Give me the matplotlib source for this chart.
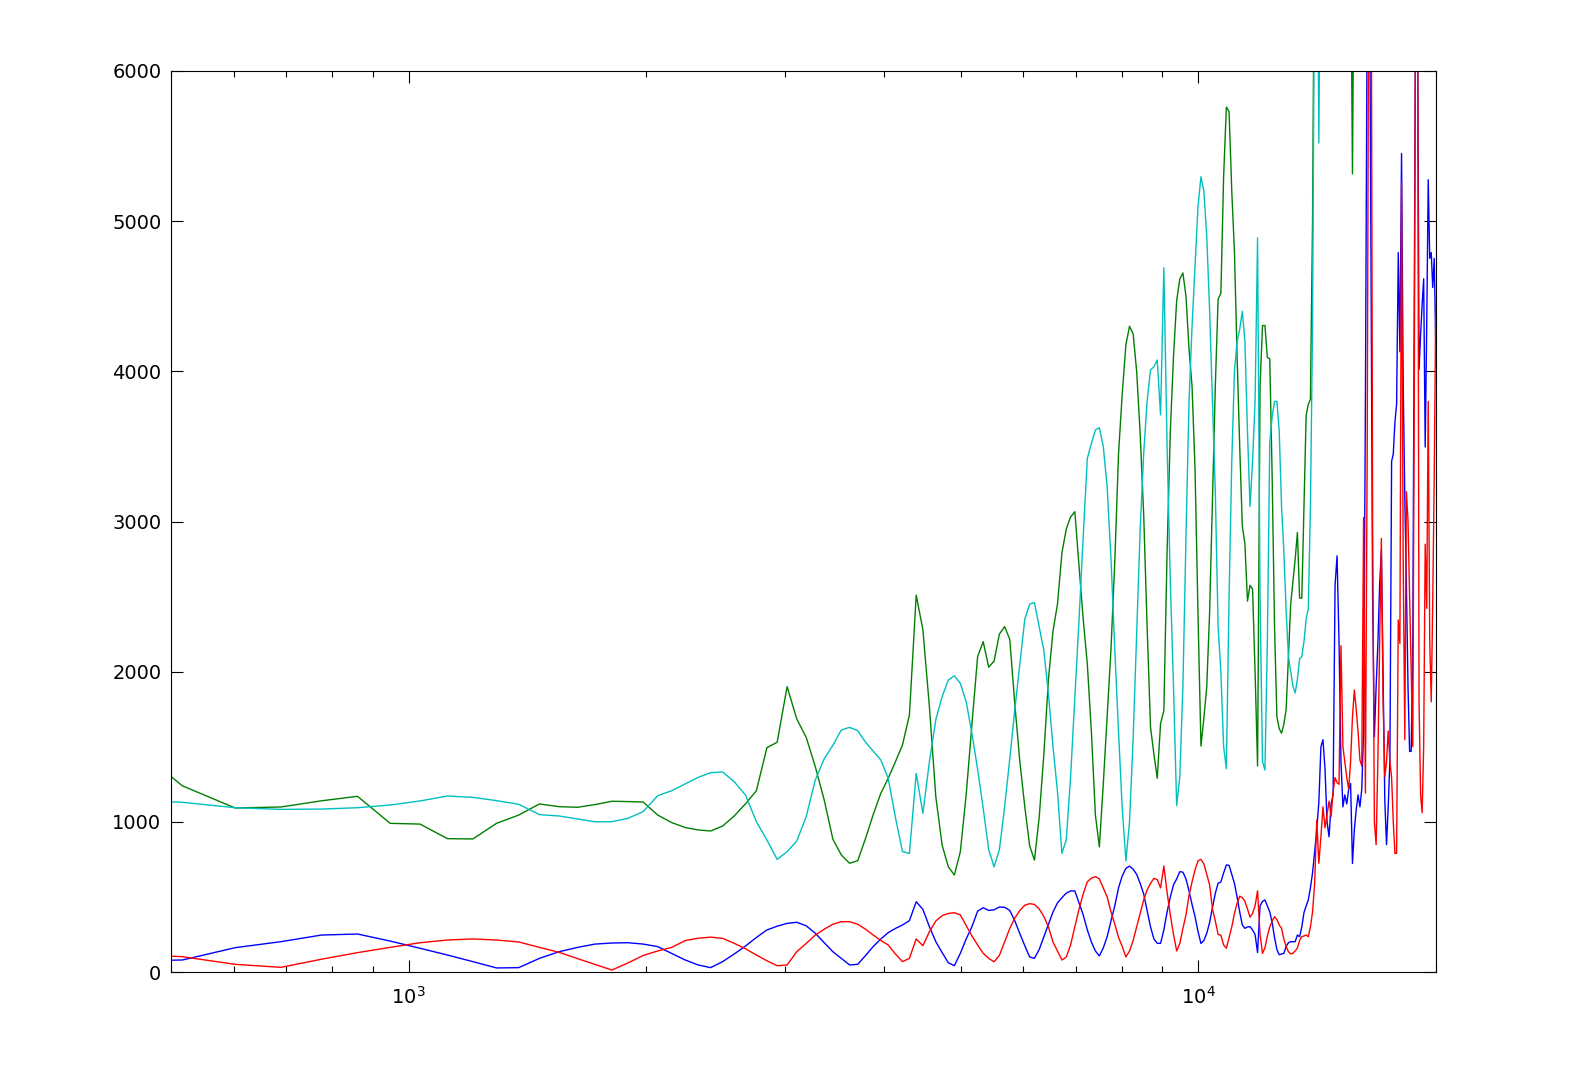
import numpy as np
import matplotlib.pyplot as plt

# FFT bins (fs = 44100 Hz, N = 512), bins 5..232
bins = np.arange(5, 233)
freq = bins * 44100.0 / 512

blue = [72, 80, 162, 202, 246, 253, 206, 158, 113, 69,
        27, 29, 91, 135, 164, 186, 193, 195, 186, 169,
        124, 80, 47, 29, 69, 120, 173, 230, 280, 305,
        324, 331, 308, 258, 195, 135, 90, 47, 51, 110,
        170, 220, 262, 290, 313, 342, 468, 417, 302, 202,
        130, 62, 42, 124, 220, 302, 405, 428, 410, 414,
        433, 431, 410, 340, 255, 175, 100, 91, 150, 235,
        320, 400, 460, 495, 525, 540, 540, 460, 380, 280,
        200, 140, 107, 160, 235, 340, 440, 560, 640, 690,
        705, 685, 650, 590, 520, 410, 300, 220, 191, 191,
        280, 400, 500, 580, 620, 668, 665, 620, 540, 450,
        368, 270, 190, 210, 258, 330, 430, 524, 591, 600,
        660, 713, 710, 650, 590, 500, 400, 313, 291, 300,
        302, 280, 250, 130, 440, 470, 480, 440, 400, 330,
        230, 150, 115, 120, 124, 170, 195, 202, 202, 202,
        246, 235, 300, 395, 440, 480, 560, 660, 800, 950,
        1130, 1500, 1547, 1350, 1000, 900, 1119, 1180, 2577, 2771,
        2200, 1400, 1100, 1179, 1119, 1217, 1255, 723, 950, 1081,
        1179, 1100, 1217, 1600, 3800, 6500, 7500, 5000, 2500, 1566,
        1900, 2188, 2577, 2810, 1994, 1140, 848, 1100, 1412, 3400,
        3450, 3663, 3781, 4791, 4130, 5450, 3936, 3159, 2577, 1900,
        1469, 1469, 2188, 4500, 7000, 6500, 4014, 4247, 4442, 4616,
        3496, 4300, 5276, 4752, 4791, 4558, 4752, 4200]

green = [1580, 1240, 1092, 1099, 1140, 1170, 990, 985, 888, 886,
         990, 1045, 1119, 1101, 1097, 1115, 1137, 1135, 1132, 1045,
         995, 962, 946, 939, 972, 1039, 1120, 1207, 1494, 1530,
         1900, 1685, 1563, 1367, 1145, 884, 779, 724, 741, 890,
         1050, 1190, 1290, 1400, 1512, 1711, 2510, 2280, 1767, 1167,
         846, 701, 646, 800, 1180, 1650, 2100, 2200, 2030, 2070,
         2250, 2300, 2215, 1780, 1400, 1100, 840, 745, 1030, 1450,
         1950, 2270, 2450, 2790, 2950, 3030, 3065, 2700, 2350, 2050,
         1600, 1045, 833, 1250, 1700, 2150, 2730, 3450, 3850, 4177,
         4300, 4250, 4000, 3580, 3050, 2300, 1630, 1450, 1290, 1655,
         1740, 2800, 3600, 4100, 4470, 4615, 4655, 4500, 4150, 3900,
         3350, 2380, 1505, 1690, 1900, 2400, 3150, 3900, 4480, 4520,
         5300, 5760, 5730, 5200, 4800, 4100, 3500, 2970, 2850, 2470,
         2575, 2550, 2000, 1372, 3898, 4305, 4305, 4092, 4084, 3300,
         2300, 1700, 1620, 1590, 1650, 1750, 2100, 2450, 2600, 2750,
         2927, 2490, 2490, 3100, 3706, 3780, 3814, 5000, 7200, 8000,
         8500, 8200, 8800, 9000, 8600, 9200, 9500, 9000, 8700, 9300,
         9600, 9100, 8800, 8400, 8000, 7600, 7000, 5315, 7200, 7800,
         8300, 8800, 9100, 8700, 8400, 8900, 9300, 9000, 8500, 8100,
         7700, 7200, 6900, 6600, 6400, 6200, 6000, 6300, 6800, 7400,
         7900, 8400, 8800, 9200, 9500, 9100, 8700, 9300, 9700, 9400,
         9000, 8600, 8200, 8700, 9100, 9500, 9800, 9400, 9000, 8600,
         8300, 8800, 9200, 9600, 9900, 9500, 9200, 9000]

red = [120, 102, 51, 31, 85, 129, 164, 195, 213, 220,
       213, 200, 164, 131, 89, 50, 13, 60, 110, 140,
       164, 209, 225, 232, 224, 191, 155, 113, 75, 42,
       47, 135, 190, 246, 285, 318, 335, 335, 318, 285,
       246, 210, 180, 120, 69, 91, 220, 175, 268, 340,
       375, 390, 395, 380, 310, 240, 180, 125, 91, 68,
       110, 200, 290, 360, 410, 445, 455, 450, 420, 370,
       300, 200, 140, 80, 100, 180, 300, 420, 520, 601,
       625, 635, 620, 560, 500, 400, 320, 230, 170, 100,
       140, 210, 300, 390, 480, 546, 590, 624, 615, 560,
       706, 530, 380, 250, 140, 190, 290, 380, 510, 600,
       680, 740, 750, 720, 650, 580, 420, 340, 250, 245,
       180, 158, 230, 300, 390, 457, 505, 495, 470, 420,
       365, 390, 440, 541, 250, 124, 160, 240, 300, 340,
       368, 350, 313, 290, 220, 170, 135, 120, 125, 140,
       160, 210, 235, 240, 246, 235, 300, 400, 590, 1012,
       724, 900, 1100, 960, 1050, 1138, 1035, 1197, 1295, 1260,
       1250, 2173, 1500, 1400, 1295, 1217, 1400, 1700, 1878, 1750,
       1600, 1412, 1372, 3027, 1191, 3500, 7500, 8000, 3000, 1000,
       848, 1412, 2188, 2887, 1799, 1300, 1400, 1605, 1400, 1295,
       1000, 789, 790, 2344, 2188, 5255, 2771, 1547, 3198, 3004,
       2500, 2033, 1500, 4000, 7500, 7000, 1800, 1179, 1061, 1500,
       2849, 2421, 3800, 2200, 1799, 2460, 3300, 4402]

cyan = [1150, 1130, 1094, 1083, 1085, 1094, 1112, 1139, 1172, 1163,
        1141, 1117, 1048, 1039, 1019, 1000, 1001, 1023, 1068, 1174,
        1207, 1252, 1296, 1327, 1332, 1267, 1179, 1001, 879, 750,
        801, 872, 1034, 1279, 1420, 1510, 1612, 1629, 1607, 1530,
        1470, 1412, 1290, 1030, 801, 790, 1323, 1057, 1400, 1680,
        1833, 1944, 1973, 1922, 1800, 1589, 1350, 1090, 815, 700,
        815, 1100, 1420, 1750, 2050, 2350, 2450, 2460, 2300, 2140,
        1850, 1500, 1200, 790, 880, 1300, 1830, 2350, 2900, 3420,
        3520, 3610, 3624, 3500, 3230, 2750, 2150, 1600, 1090, 740,
        1000, 1550, 2250, 2950, 3450, 3800, 4010, 4030, 4075, 3710,
        4690, 3500, 2600, 1900, 1108, 1300, 1900, 2900, 3800, 4300,
        4700, 5100, 5296, 5200, 4900, 4400, 3800, 3200, 2300, 2000,
        1500, 1353, 2500, 3400, 4000, 4200, 4280, 4400, 4200, 3600,
        3100, 3400, 3800, 4888, 2500, 1400, 1345, 2200, 3524, 3700,
        3800, 3800, 3600, 3100, 2800, 2400, 2100, 2000, 1903, 1858,
        1950, 2087, 2100, 2200, 2350, 2420, 3100, 4300, 7000, 7800,
        5520, 7500, 8200, 8800, 9200, 9500, 9800, 9600, 9300, 9000,
        8700, 8900, 9200, 9500, 9700, 9900, 9600, 9300, 9000, 8800,
        9100, 9400, 9700, 9500, 9200, 8900, 8600, 8800, 9100, 9400,
        9600, 9300, 9000, 8700, 8500, 8800, 9100, 9400, 9700, 9900,
        9600, 9300, 9000, 8700, 8900, 9200, 9500, 9800, 9600, 9300,
        9000, 8800, 9000, 9300, 9600, 9800, 9500, 9200, 8900, 8700,
        9000, 9300, 9600, 9900, 9700, 9400, 9100, 8800]

fig = plt.figure(figsize=(15.79, 10.8), dpi=100)
ax = fig.add_axes([171 / 1579, 108 / 1080, 1265 / 1579, 901 / 1080])

# matlab default order b, g, r, c
ax.semilogx(freq, blue, color='#0000ff', lw=1.0)
ax.semilogx(freq, green, color='#007f00', lw=1.0)
ax.semilogx(freq, red, color='#ff0000', lw=1.0)
ax.semilogx(freq, cyan, color='#00bfbf', lw=1.0)

ax.set_xlim(500, 20000)
ax.set_ylim(0, 6000)
ax.set_yticks(range(0, 7000, 1000))

ax.tick_params(which='both', direction='in', top=True, right=True, width=0.8)
ax.tick_params(which='major', length=8.5, labelsize=14)
ax.tick_params(axis='y', pad=7)
ax.tick_params(axis='x', pad=10)
ax.tick_params(which='minor', length=4.3)
for s in ax.spines.values():
    s.set_linewidth(0.8)

fig.savefig('out.png', dpi=100)
